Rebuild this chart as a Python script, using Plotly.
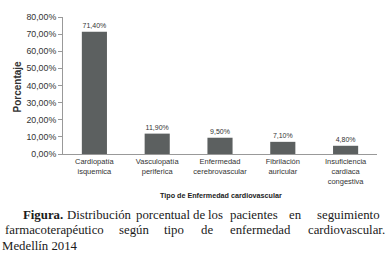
import plotly.graph_objects as go

categories = ["Cardiopatía<br>isquemica", "Vasculopatía<br>periferica", "Enfermedad<br>cerebrovascular",
              "Fibrilación<br>auricular", "Insuficiencia<br>cardiaca<br>congestiva"]
values = [71.4, 11.9, 9.5, 7.1, 4.8]
value_labels = ["71,40%", "11,90%", "9,50%", "7,10%", "4,80%"]
y_title = "Porcentaje"
x_title = "Tipo de Enfermedad cardiovascular"

caption_line1 = ["<b>Figura.</b>", "Distribución", "porcentual", "de", "los", "pacientes", "en", "seguimiento"]
caption_line2 = ["farmacoterapéutico", "según", "tipo", "de", "enfermedad", "cardiovascular."]
caption_line3 = ["Medellín 2014"]

W, H = 389, 259
ML, MR, MT, MB = 63, 12, 12, 105
PW = W - ML - MR
PH = H - MT - MB


def px_x(px):
    return (px - ML) / PW


def px_y(py):
    return (H - MB - py) / PH


fig = go.Figure()
fig.add_trace(go.Bar(
    x=categories, y=values, text=value_labels, textposition="outside",
    textfont=dict(family="Liberation Sans, Arial", size=7, color="#333"),
    marker=dict(color="#5c6060", line=dict(width=0)),
    cliponaxis=False, width=0.4,
))

annotations = []
annotations.append(dict(text="<b>" + y_title + "</b>", x=px_x(17), y=px_y(84), xref="paper", yref="paper",
                        textangle=-90, showarrow=False, xanchor="center", yanchor="middle",
                        font=dict(family="Liberation Sans, Arial", size=10, color="#333")))
annotations.append(dict(text="<b>" + x_title + "</b>", x=px_x(221), y=px_y(197), xref="paper", yref="paper",
                        showarrow=False, xanchor="center", yanchor="middle",
                        font=dict(family="Liberation Sans, Arial", size=7.2, color="#222")))

cap_font = dict(family="Liberation Serif, Times New Roman, serif", size=12.8, color="#1a1a1a")
# word centres (pixels) for the justified caption lines
line1_x = [43, 99, 162.5, 198.5, 215, 254, 295.5, 348]
line2_x = [54, 133.5, 174, 206.5, 260.5, 346.5]
line3_x = [40]
for words, xs, py in [(caption_line1, line1_x, 217), (caption_line2, line2_x, 233), (caption_line3, line3_x, 249)]:
    for w, x0 in zip(words, xs):
        annotations.append(dict(text=w, x=px_x(x0), y=px_y(py), xref="paper", yref="paper",
                                showarrow=False, xanchor="center", yanchor="middle", font=cap_font,
                                borderpad=0))

fig.update_layout(
    width=W, height=H,
    margin=dict(l=ML, r=MR, t=MT, b=MB, pad=0),
    paper_bgcolor="white", plot_bgcolor="white",
    separators=",.",
    showlegend=False,
    annotations=annotations,
    bargap=0.6,
)
fig.update_xaxes(
    showline=True, linecolor="#999", linewidth=1, ticks="", showgrid=False,
    tickfont=dict(family="Liberation Sans, Arial", size=7.5, color="#333"),
    range=[-0.5, 4.5],
)
fig.update_yaxes(
    range=[0, 80], dtick=10, tickformat=".2f", ticksuffix="%",
    showline=True, linecolor="#999", linewidth=1, ticks="outside", ticklen=4, tickcolor="#999",
    showgrid=False, zeroline=False,
    tickfont=dict(family="Liberation Sans, Arial", size=8.8, color="#333"),
)

fig.write_html("out.html", config=dict(displayModeBar=False),
               post_script="document.body.style.margin='0';document.body.style.overflow='hidden';")
